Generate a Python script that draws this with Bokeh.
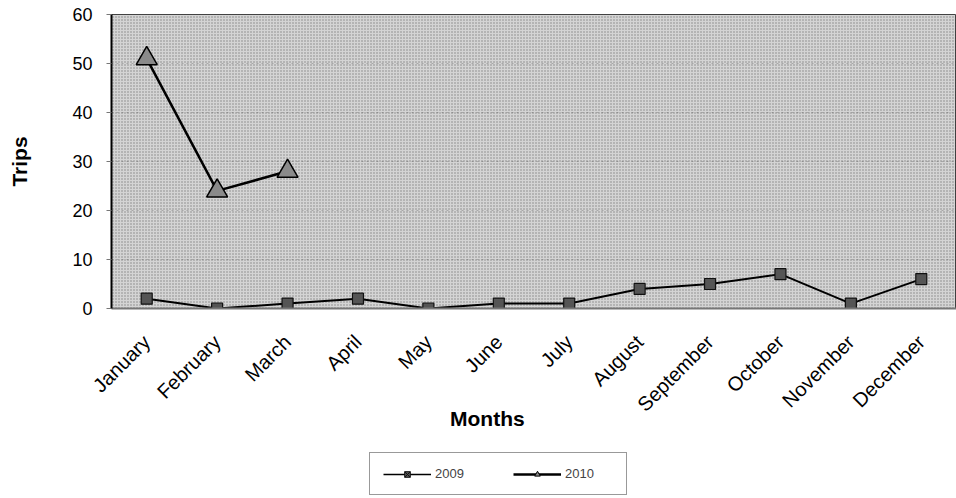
from math import pi
from bokeh.plotting import figure
from bokeh.layouts import column
from bokeh.models import Legend, LegendItem, FactorRange, Range1d, BoxAnnotation
from bokeh.embed import file_html
from bokeh.resources import INLINE

months = ["January", "February", "March", "April", "May", "June", "July",
          "August", "September", "October", "November", "December"]
trips_2009 = [2, 0, 1, 2, 0, 1, 1, 4, 5, 7, 1, 6]
months_2010 = ["January", "February", "March"]
trips_2010 = [51, 24, 28]
y_ticks = [0, 10, 20, 30, 40, 50, 60]
series_names = ["2009", "2010"]

FONT = "Liberation Sans"

p = figure(width=956, height=450,
           x_range=FactorRange(*months, range_padding=0),
           y_range=Range1d(0, 60),
           output_backend="svg", toolbar_location=None,
           min_border_left=111, min_border_right=0,
           min_border_top=14, min_border_bottom=142)

p.background_fill_color = "#d4d4d4"
p.border_fill_color = "white"
p.outline_line_color = "#444444"
p.outline_line_width = 1

stipple = BoxAnnotation(fill_color=None, line_color=None,
                        hatch_pattern=".", hatch_color="#222222",
                        hatch_scale=3, hatch_alpha=0.45, level="underlay")
p.add_layout(stipple)

p.xgrid.grid_line_color = None
p.ygrid.grid_line_color = "#8a8a8a"
p.ygrid.grid_line_dash = "2 3"
p.ygrid.grid_line_alpha = 0.6
p.yaxis.ticker = y_ticks

# axes
p.yaxis.axis_label = "Trips"
p.yaxis.axis_label_text_font = FONT
p.yaxis.axis_label_text_font_style = "bold"
p.yaxis.axis_label_text_font_size = "21px"
p.yaxis.axis_label_text_color = "black"
p.yaxis.axis_label_standoff = 38
p.yaxis.major_label_text_font = FONT
p.yaxis.major_label_text_font_size = "18px"
p.yaxis.major_label_text_color = "black"
p.yaxis.axis_line_color = "black"
p.yaxis.axis_line_width = 2
p.yaxis.major_tick_line_color = "#777777"
p.yaxis.major_tick_out = 5
p.yaxis.major_tick_in = 0
p.yaxis.minor_tick_line_color = None
p.yaxis.major_label_standoff = 14

# trailing no-break spaces shift the centred title left, as in the original
p.xaxis.axis_label = "Months" + "\u00a0" * 16
p.xaxis.axis_label_text_font = FONT
p.xaxis.axis_label_text_font_style = "bold"
p.xaxis.axis_label_text_font_size = "21px"
p.xaxis.axis_label_text_color = "black"
p.xaxis.axis_label_standoff = -19
p.xaxis.major_label_text_font = FONT
p.xaxis.major_label_text_font_size = "20px"
p.xaxis.major_label_text_color = "black"
p.xaxis.major_label_orientation = pi / 4
p.xaxis.major_label_standoff = 30
p.xaxis.axis_line_color = "#777777"
p.xaxis.axis_line_width = 2
p.xaxis.major_tick_line_color = None
p.xaxis.major_tick_out = 0

# series
p.line(months, trips_2009, line_color="black", line_width=2)
p.scatter(months, trips_2009, marker="square", size=11,
          fill_color="#555555", line_color="#111111", line_width=1.2)
p.line(months_2010, trips_2010, line_color="black", line_width=2.5)
p.scatter(months_2010, trips_2010, marker="triangle", size=21,
          fill_color="#8a8a8a", line_color="black", line_width=1.5)

# lower strip holding the legend (its own ranges keep the series out of view)
p2 = figure(width=956, height=48, x_range=FactorRange(*months),
            y_range=Range1d(-20, -10),
            output_backend="svg", toolbar_location=None,
            x_axis_location=None, y_axis_location=None, min_border=0)
p2.grid.visible = False
p2.outline_line_color = None
p2.background_fill_color = "white"
p2.border_fill_color = "white"

g09 = p2.line(months, trips_2009, line_color="black", line_width=1.5)
s09 = p2.scatter(months, trips_2009, marker="square_x", size=7,
                 fill_color="#555555", line_color="#111111")
g10 = p2.line(months_2010, trips_2010, line_color="black", line_width=2.5)
s10 = p2.scatter(months_2010, trips_2010, marker="triangle", size=9,
                 fill_color="#8a8a8a", line_color="black")

legend = Legend(items=[LegendItem(label=series_names[0], renderers=[g09, s09]),
                       LegendItem(label=series_names[1], renderers=[g10, s10])],
                orientation="horizontal", location=(258, 3),
                glyph_width=48, glyph_height=14, label_standoff=4,
                label_width=48, spacing=30, padding=13, margin=0,
                label_text_font=FONT, label_text_font_size="13px",
                border_line_color="#333333", border_line_width=1,
                background_fill_color="white", background_fill_alpha=1)
p2.add_layout(legend)

layout = column(p, p2, spacing=0)
open("out.html", "w").write(file_html(layout, INLINE))
